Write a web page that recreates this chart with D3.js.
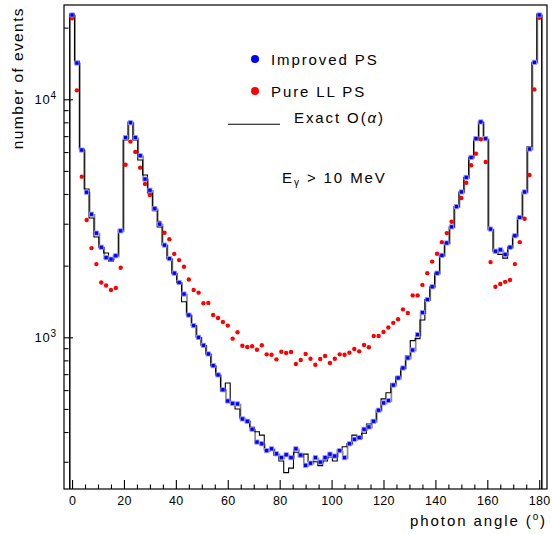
<!DOCTYPE html>
<html><head><meta charset="utf-8">
<script src="https://cdn.jsdelivr.net/npm/d3@7"></script>
<style>
body{margin:0;background:#fff;}
text{font-family:"Liberation Sans",Arial,sans-serif;fill:#000;}
</style></head>
<body><svg id="c" width="552" height="534"></svg>
<script>
// ---- data ----
const binWidth = 1.875;           // photon angle bin width (degrees), bins centred on 0 ... 180
const improvedPS = [22600,14200,6120,4070,3290,2740,2390,2160,2130,2200,
 2800,6900,7970,6900,5790,4620,4150,3470,2990,2440,
 2140,1860,1700,1520,1240,1120,1000,926,851,760,
 695,602,540,528,525,454,444,411,363,357,
 334,340,324,312,321,312,340,320,290,296,
 312,299,312,323,317,334,312,357,373,379,
 411,420,444,494,530,542,630,675,743,819,
 884,1025,1270,1440,1630,1860,2210,2490,2910,3540,
 4080,4700,5700,6830,8030,6830,2850,2300,2330,2230,
 2390,2670,3190,4080,6180,14300,22600];
const pureLLPS = [21900,10900,4730,3110,2370,2030,1700,1650,1580,1610,
 1960,5310,6640,6010,5160,4410,3960,3490,3030,2750,
 2580,2240,2110,1980,1750,1580,1540,1390,1395,1240,
 1205,1160,1120,987,1050,922,910,917,887,926,
 848,845,808,870,859,867,772,803,851,813,
 767,811,835,780,813,848,845,862,893,873,
 928,908,1013,1013,1053,1100,1150,1190,1310,1265,
 1500,1500,1660,1860,2080,2245,2510,2740,3060,3540,
 3850,4460,5280,5910,6790,5450,2070,1630,1675,1710,
 1740,2030,2510,3150,4810,11000,22000];
const exactOalpha = [22800,14450,6180,4200,3170,2640,2390,2260,2090,2210,
 2830,6745,8030,6745,5560,4810,4040,3400,2910,2440,
 2140,1860,1700,1410,1240,1120,1000,926,851,760,
 695,595,643,529,500,458,447,419,401,388,
 337,337,319,302,270,282,329,315,323,300,
 300,289,302,314,302,337,347,358,388,373,
 395,432,449,495,551,585,638,683,741,835,
 968,987,1182,1440,1630,1860,2210,2490,2910,3540,
 4080,4700,5700,6745,8030,6745,2830,2300,2230,2150,
 2390,2670,3190,4080,6320,14300,22800];
const xMajorTicks = [0,20,40,60,80,100,120,140,160,180];
const yMajorTicks = [1000,10000];
const yMajorLabels = ["3","4"]; // exponents for 1000, 10000
const yMinorTicks = [300,400,500,600,700,800,900,2000,3000,4000,5000,6000,7000,8000,9000,20000];

// ---- layout ----
const svg = d3.select("#c");
const L=64, R=547, T=5, B=489;
const x = d3.scaleLinear().domain([-3.1,183]).range([L,R]);
const y = d3.scaleLog().domain([230.5,24890]).range([B,T]);
const centers = improvedPS.map((d,i)=>i*binWidth);

function histPoints(vals){
  const base = y.domain()[0];
  const pts = [[-binWidth/2, base]];
  vals.forEach((v,i)=>pts.push([centers[i]-binWidth/2, v]));
  const last = vals.length-1;
  pts.push([centers[last]+binWidth/2, vals[last]]);
  pts.push([centers[last]+binWidth/2, base]);
  return pts;
}
const line = d3.line().x(d=>x(d[0])).y(d=>y(d[1])).curve(d3.curveStepAfter);

const g = svg.append("g");
g.append("defs").append("clipPath").attr("id","clip").append("rect")
  .attr("x",L).attr("y",T).attr("width",R-L).attr("height",B-T);
const plot = g.append("g").attr("clip-path","url(#clip)");

// grey histogram (improved PS)
plot.append("path").attr("d",line(histPoints(improvedPS)))
  .attr("transform","translate(0.6,0.6)")
  .attr("fill","none").attr("stroke","#8c8c8c").attr("stroke-width",1.7);
// black histogram (exact O(alpha))
plot.append("path").attr("d",line(histPoints(exactOalpha)))
  .attr("fill","none").attr("stroke","#000").attr("stroke-width",1.1);

// red points
plot.selectAll("circle.red").data(pureLLPS).join("circle")
  .attr("cx",(d,i)=>x(centers[i])).attr("cy",d=>y(d)).attr("r",2.2)
  .attr("fill","#ff0000");
// blue squares
plot.selectAll("rect.blue").data(improvedPS).join("rect")
  .attr("x",(d,i)=>x(centers[i])-2.1).attr("y",d=>y(d)-2.1)
  .attr("width",4.2).attr("height",4.2)
  .attr("fill","#0000ff").attr("stroke","#9a9aff").attr("stroke-width",0.8);

// axes
const xAx = d3.axisBottom(x).tickValues(xMajorTicks).tickSize(-9).tickPadding(7);
const xg = g.append("g").attr("transform",`translate(0,${B})`).call(xAx);
xg.select(".domain").remove();
xg.selectAll("text").style("font-size","12.5px").style("letter-spacing","0.3px");
const xMinor = d3.range(0,181,5).filter(v=>v%20!==0);
const xg2 = g.append("g").attr("transform",`translate(0,${B})`)
  .call(d3.axisBottom(x).tickValues(xMinor).tickSize(-4.5).tickFormat(""));
xg2.select(".domain").remove();

const yg = g.append("g").attr("transform",`translate(${L},0)`)
  .call(d3.axisLeft(y).tickValues(yMajorTicks).tickSize(-9).tickFormat(""));
yg.select(".domain").remove();
const yg2 = g.append("g").attr("transform",`translate(${L},0)`)
  .call(d3.axisLeft(y).tickValues(yMinorTicks).tickSize(-4.5).tickFormat(""));
yg2.select(".domain").remove();
g.selectAll(".tick line").attr("stroke","#000").attr("stroke-width",1.1);

yMajorTicks.forEach((v,i)=>{
  const t = g.append("text").attr("x",56).attr("y",y(v)+4.5)
    .attr("text-anchor","end").style("font-size","13px");
  t.append("tspan").text("10").style("letter-spacing","0.8px");
  t.append("tspan").attr("dy",-5).style("font-size","10px").text(yMajorLabels[i]);
});

// frame
g.append("rect").attr("x",L).attr("y",T).attr("width",R-L).attr("height",B-T)
  .attr("fill","none").attr("stroke","#000").attr("stroke-width",1.2);

// axis titles
const xt = g.append("text").attr("x",547).attr("y",526).attr("text-anchor","end")
  .style("font-size","15px").style("letter-spacing","1.9px");
xt.append("tspan").text("photon angle (");
xt.append("tspan").attr("dy",-6).style("font-size","10px").text("o");
xt.append("tspan").attr("dy",6).text(")");

g.append("text").attr("transform","translate(23,7) rotate(-90)")
  .attr("text-anchor","end").style("font-size","15.5px").style("letter-spacing","1.4px")
  .text("number of events");

// legend
const leg = g.append("g");
leg.append("circle").attr("cx",255).attr("cy",59).attr("r",4).attr("fill","#0000ff");
leg.append("text").attr("x",271).attr("y",64.5).style("font-size","15px")
  .style("letter-spacing","1.9px").text("Improved PS");
leg.append("circle").attr("cx",255).attr("cy",91).attr("r",4).attr("fill","#ff0000");
leg.append("text").attr("x",271).attr("y",96.5).style("font-size","15px")
  .style("letter-spacing","1.9px").text("Pure LL PS");
leg.append("line").attr("x1",228).attr("x2",280).attr("y1",124.3).attr("y2",124.3)
  .attr("stroke","#000").attr("stroke-width",1.1);
const ex = leg.append("text").attr("x",294).attr("y",123).style("font-size","15px")
  .style("letter-spacing","1.9px");
ex.append("tspan").text("Exact O(");
ex.append("tspan").style("font-style","italic").text("α");
ex.append("tspan").text(")");
const et = leg.append("text").attr("x",282).attr("y",183).style("font-size","15px")
  .style("letter-spacing","1.9px");
et.append("tspan").text("E");
et.append("tspan").attr("dy",3).style("font-size","10px").text("γ");
et.append("tspan").attr("dy",-3).text(" > 10 MeV");
</script></body></html>
